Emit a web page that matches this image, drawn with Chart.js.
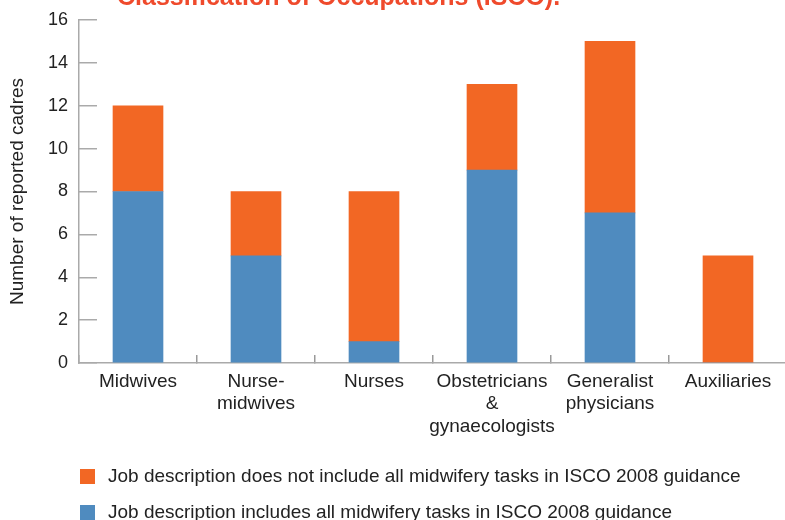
<!DOCTYPE html>
<html>
<head>
<meta charset="utf-8">
<script src="https://cdn.jsdelivr.net/npm/chart.js@4"></script>
<style>
  html, body { margin: 0; padding: 0; background: #fff; overflow: hidden; }
  #wrap { width: 790px; height: 520px; }
</style>
</head>
<body>
<div id="wrap"><canvas id="cadreChart" width="790" height="520"></canvas></div>
<script>
const categories = [
  "Midwives",
  ["Nurse-", "midwives"],
  "Nurses",
  ["Obstetricians", "&", "gynaecologists"],
  ["Generalist", "physicians"],
  "Auxiliaries"
];
const includesAll = [8, 5, 1, 9, 7, 0];
const notIncludesAll = [4, 3, 7, 4, 8, 5];
const yTicks = [0, 2, 4, 6, 8, 10, 12, 14, 16];

const labelIncludes = "Job description includes all midwifery tasks in ISCO 2008 guidance";
const labelNotIncludes = "Job description does not include all midwifery tasks in ISCO 2008 guidance";
const titleText = "Classification of Occupations (ISCO).";

const BLUE = "#4f8bbf";
const ORANGE = "#f26724";
const FONT = "'Liberation Sans', Arial, sans-serif";

// title is cut off at the top of the picture, and the legend sits below the axis labels
const extras = {
  id: "extras",
  afterDraw(chart) {
    const c = chart.ctx;
    c.save();
    c.fillStyle = "#ef4a2c";
    c.font = "bold 25px " + FONT;
    c.textBaseline = "alphabetic";
    c.fillText(titleText, 117, 5);

    const items = [
      { color: ORANGE, text: labelNotIncludes, y: 477 },
      { color: BLUE, text: labelIncludes, y: 513 }
    ];
    c.font = "19px " + FONT;
    c.textBaseline = "middle";
    items.forEach(it => {
      c.fillStyle = it.color;
      c.fillRect(80, it.y - 8, 15, 15);
      c.fillStyle = "#222";
      c.fillText(it.text, 108, it.y);
    });
    c.restore();
  }
};

new Chart(document.getElementById("cadreChart"), {
  type: "bar",
  data: {
    labels: categories,
    datasets: [
      { label: labelIncludes, data: includesAll, backgroundColor: BLUE },
      { label: labelNotIncludes, data: notIncludesAll, backgroundColor: ORANGE }
    ]
  },
  options: {
    responsive: false,
    animation: false,
    layout: { padding: { top: 20, right: 3, bottom: 0, left: 0 } },
    datasets: { bar: { barThickness: 50 } },
    scales: {
      x: {
        stacked: true,
        grid: { drawOnChartArea: false, offset: true, tickLength: -8, color: "#999", lineWidth: 1.5 },
        border: { color: "#aaa", width: 1.5 },
        ticks: { color: "#222", font: { family: FONT, size: 19 }, padding: 15, maxRotation: 0, autoSkip: false },
        afterFit(s) { s.height = 157; }
      },
      y: {
        stacked: true,
        min: 0,
        max: 16,
        afterBuildTicks(s) { s.ticks = yTicks.map(v => ({ value: v })); },
        grid: { drawOnChartArea: false, tickLength: -18, color: "#aaa", lineWidth: 1.5 },
        border: { color: "#aaa", width: 1.5 },
        ticks: { color: "#222", font: { family: FONT, size: 18 }, padding: 29 },
        title: { display: true, text: "Number of reported cadres", color: "#222", font: { family: FONT, size: 19 }, padding: { top: 6, bottom: 20 } },
        afterFit(s) {
          s.width = 79;
          s.paddingTop = 0;
          s.paddingBottom = 0;
        }
      }
    },
    plugins: {
      legend: { display: false },
      tooltip: { enabled: false }
    }
  },
  plugins: [extras]
});
</script>
</body>
</html>
